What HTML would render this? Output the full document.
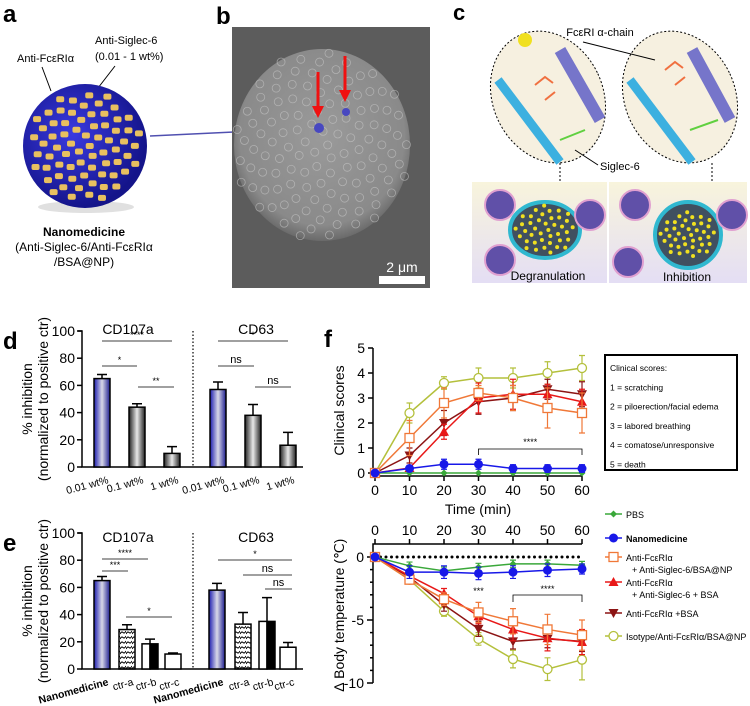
<!DOCTYPE html>
<html><head><meta charset="utf-8"><style>
html,body{margin:0;padding:0;background:#fff;}
svg{display:block;font-family:"Liberation Sans",sans-serif;}
</style></head><body>
<svg id="fig" width="750" height="706" viewBox="0 0 750 706" xmlns="http://www.w3.org/2000/svg">
<defs>
<radialGradient id="npG" cx="0.4" cy="0.4" r="0.6"><stop offset="0" stop-color="#3a3ae0"/><stop offset="1" stop-color="#14148a"/></radialGradient>
<radialGradient id="semG" cx="0.5" cy="0.45" r="0.55"><stop offset="0" stop-color="#9a9a9a"/><stop offset="0.85" stop-color="#8a8a8a"/><stop offset="1" stop-color="#6a6a6a"/></radialGradient>
<linearGradient id="blueBar" x1="0" x2="1"><stop offset="0" stop-color="#1c1cb0"/><stop offset="0.5" stop-color="#d8d8e8"/><stop offset="1" stop-color="#1c1c90"/></linearGradient>
<linearGradient id="greyBar" x1="0" x2="1"><stop offset="0" stop-color="#222"/><stop offset="0.5" stop-color="#e8e8e8"/><stop offset="1" stop-color="#222"/></linearGradient>
<linearGradient id="cellBg" x1="0" y1="0" x2="0" y2="1"><stop offset="0" stop-color="#f8f4dc"/><stop offset="1" stop-color="#e4def4"/></linearGradient>
<pattern id="wave" width="6" height="5" patternUnits="userSpaceOnUse"><path d="M0 4 Q1.5 1 3 2.5 T6 1" fill="none" stroke="#000" stroke-width="1"/></pattern>
</defs>

<!-- Panel a -->
<g>
<text x="3" y="22" font-size="24" font-weight="bold">a</text>
<text x="17" y="62" font-size="11">Anti-FcεRIα</text>
<text x="95" y="44" font-size="11">Anti-Siglec-6</text>
<text x="95" y="60" font-size="11">(0.01 - 1 wt%)</text>
<line x1="42" y1="67" x2="51" y2="91" stroke="#000"/>
<line x1="115" y1="66" x2="98" y2="88" stroke="#000"/>
<ellipse cx="86" cy="207" rx="48" ry="6" fill="#ccc" opacity="0.6"/>
<circle cx="85" cy="146" r="62" fill="url(#npG)"/>
<g id="npDots"></g>
<line x1="150" y1="136" x2="318" y2="128" stroke="#5050b0" stroke-width="1.5"/>
<text x="84" y="236" font-size="12" font-weight="bold" text-anchor="middle">Nanomedicine</text>
<text x="84" y="251" font-size="12" text-anchor="middle">(Anti-Siglec-6/Anti-FcεRIα</text>
<text x="84" y="266" font-size="12" text-anchor="middle">/BSA@NP)</text>
</g>

<!-- Panel b -->
<g>
<text x="216" y="24" font-size="24" font-weight="bold">b</text>
<rect x="232" y="27" width="198" height="261" fill="#5c5c5c"/>
<ellipse cx="322" cy="145" rx="88" ry="96" fill="url(#semG)"/>
<g id="semTex"></g>
<circle cx="319" cy="128" r="5" fill="#4848c0"/>
<circle cx="346" cy="112" r="4" fill="#4848c0"/>
<line x1="318" y1="72" x2="318" y2="108" stroke="#f01010" stroke-width="3"/>
<polygon points="312,106 324,106 318,118" fill="#f01010"/>
<line x1="345" y1="56" x2="345" y2="92" stroke="#f01010" stroke-width="3"/>
<polygon points="339,90 351,90 345,102" fill="#f01010"/>
<text x="402" y="272" font-size="14" fill="#fff" text-anchor="middle">2 μm</text>
<rect x="379" y="276" width="46" height="8" fill="#fff"/>
</g>

<!-- Panel c -->
<g>
<text x="453" y="20" font-size="22" font-weight="bold">c</text>
<g>
<ellipse cx="548" cy="97" rx="55" ry="68" transform="rotate(-25 548 97)" fill="#f6f0e0" stroke="#000" stroke-dasharray="2,2"/>
<path d="M498 80 L560 162" stroke="#3cb0e0" stroke-width="9" fill="none"/>
<path d="M560 50 L600 120" stroke="#4040c0" stroke-width="12" fill="none" opacity="0.7"/>
<circle cx="525" cy="40" r="7" fill="#f0e020"/>
<path d="M535 85 l10 -8 l8 6 M545 100 l10 -8" stroke="#f07040" stroke-width="2" fill="none"/>
<path d="M560 140 l25 -10" stroke="#60d040" stroke-width="2"/>
</g>
<g>
<ellipse cx="680" cy="97" rx="55" ry="68" transform="rotate(-25 680 97)" fill="#f6f0e0" stroke="#000" stroke-dasharray="2,2"/>
<path d="M630 80 L692 162" stroke="#3cb0e0" stroke-width="9" fill="none"/>
<path d="M692 50 L730 120" stroke="#4040c0" stroke-width="12" fill="none" opacity="0.7"/>
<path d="M665 70 l10 -8 l8 6 M675 85 l10 -8" stroke="#f07040" stroke-width="2" fill="none"/>
<path d="M690 130 l28 -10" stroke="#60d040" stroke-width="2"/>
</g>
<text x="600" y="36" font-size="11" text-anchor="middle">FcεRI α-chain</text>
<line x1="583" y1="42" x2="655" y2="60" stroke="#000"/>
<text x="600" y="170" font-size="11">Siglec-6</text>
<line x1="575" y1="150" x2="598" y2="165" stroke="#000"/>
<line x1="560" y1="163" x2="560" y2="196" stroke="#000" stroke-dasharray="2,2"/>
<line x1="712" y1="163" x2="712" y2="198" stroke="#000" stroke-dasharray="2,2"/>
<rect x="472" y="182" width="135" height="101" fill="url(#cellBg)"/>
<rect x="609" y="182" width="138" height="101" fill="url(#cellBg)"/>
<ellipse cx="545" cy="230" rx="35" ry="28" fill="#405060" stroke="#30b8d0" stroke-width="4"/>
<circle cx="688" cy="235" r="33" fill="#405060" stroke="#30b8d0" stroke-width="4"/>
<g id="cellDots"></g>
<text x="548" y="280" font-size="12" text-anchor="middle">Degranulation</text>
<text x="687" y="281" font-size="12" text-anchor="middle">Inhibition</text>
</g>

<g id="pd">
<text x="3" y="349" font-size="24" font-weight="bold">d</text>
</g>
<g id="pe">
<text x="3" y="551" font-size="24" font-weight="bold">e</text>
</g>
<g id="pf">
<text x="324" y="347" font-size="24" font-weight="bold">f</text>
</g>
</svg>
<script>
// ---- panel d data ----
const dCats = ["0.01 wt%","0.1 wt%","1 wt%"];
const dCD107a = [65,44,10];
const dCD107aErr = [3,2.5,5];
const dCD63 = [57,38,16];
const dCD63Err = [5.5,8,9.5];
// ---- panel e data ----
const eCats = ["Nanomedicine","ctr-a","ctr-b","ctr-c"];
const eCD107a = [65,29,18.5,11];
const eCD107aErr = [3,3.5,3.5,0.8];
const eCD63 = [58,33,35,16];
const eCD63Err = [5,8.5,17.5,3.5];
const barTicks = [0,20,40,60,80,100];
// ---- panel f data ----
const times = [0,10,20,30,40,50,60];
const scoreTicks = [0,1,2,3,4,5];
const tempTicks = [0,-5,-10];
const clinPBS = [0,0,0,0,0,0,0];
const clinNano = [0,0.18,0.35,0.35,0.18,0.18,0.18];
const clinNanoErr = [0,0.12,0.2,0.2,0.15,0.15,0.15];
const clinNP = [0,1.4,2.8,3.2,3.0,2.6,2.4];
const clinNPErr = [0,0.7,0.6,0.3,0.5,0.8,0.8];
const clinFree = [0,0.2,1.65,3.0,3.15,3.15,2.85];
const clinFreeErr = [0,0.1,0.3,0.6,0.6,0.4,0.5];
const clinBSA = [0,0.7,2.0,2.85,3.0,3.35,3.15];
const clinBSAErr = [0,0.3,0.5,0.5,0.5,0.4,0.5];
const clinIso = [0,2.4,3.6,3.8,3.8,4.0,4.2];
const clinIsoErr = [0,0.4,0.25,0.4,0.4,0.45,0.5];
const tempPBS = [0,-0.7,-1.1,-0.8,-0.55,-0.55,-0.65];
const tempPBSErr = [0,0.3,0.3,0.3,0.3,0.3,0.3];
const tempNano = [0,-1.2,-1.2,-1.3,-1.2,-1.05,-0.95];
const tempNanoErr = [0,0.5,0.5,0.5,0.5,0.5,0.4];
const tempNP = [0,-1.8,-3.35,-4.4,-5.1,-5.75,-6.2];
const tempNPErr = [0,0.3,0.5,0.8,1.0,1.2,1.2];
const tempFree = [0,-1.5,-2.9,-4.7,-5.75,-6.45,-6.75];
const tempFreeErr = [0,0.3,0.4,0.6,0.9,1.0,1.0];
const tempBSA = [0,-1.6,-3.8,-5.7,-6.7,-6.5,-6.7];
const tempBSAErr = [0,0.3,0.5,0.6,0.6,0.7,0.8];
const tempIso = [0,-1.8,-4.3,-6.5,-8.1,-8.9,-8.15];
const tempIsoErr = [0,0.3,0.4,0.5,0.7,0.9,1.6];

const NS="http://www.w3.org/2000/svg";
function mk(parent,tag,attrs,txt){const e=document.createElementNS(NS,tag);for(const k in attrs)e.setAttribute(k,attrs[k]);if(txt!==undefined)e.textContent=txt;parent.appendChild(e);return e;}

// decorative
(function(){
  const g=document.getElementById('npDots');
  for(let i=0;i<70;i++){const a=i*2.399,r=56*Math.sqrt((i+0.5)/70);
    const d=mk(g,'rect',{x:85+r*Math.cos(a)-4,y:146+r*Math.sin(a)-3,width:8,height:6,rx:2,fill:'#e8c060'});
    
    }
  const s=document.getElementById('semTex');
  for(let i=0;i<120;i++){const a=i*2.399,r=88*Math.sqrt((i+0.5)/120);
    const c=mk(s,'circle',{cx:322+r*Math.cos(a),cy:145+r*Math.sin(a)*1.08,r:4,fill:'none',stroke:'#c8c8c8','stroke-width':0.8,opacity:0.6});
    
    }
  const cd=document.getElementById('cellDots');
  [[545,230,30],[688,235,28]].forEach(([cx,cy,R])=>{for(let i=0;i<40;i++){const a=i*2.399,r=R*Math.sqrt((i+0.5)/40);
    const c=mk(cd,'circle',{cx:cx+r*Math.cos(a),cy:cy+r*Math.sin(a)*0.85,r:2,fill:'#f0e020'});
    
    }});
  [[500,205],[500,260],[590,215],[635,205],[628,262],[732,215]].forEach(([x,y])=>{
    const c=mk(cd,'circle',{cx:x,cy:y,r:15,fill:'#6050a8',stroke:'#e0a0d0','stroke-width':2});
    
    });
})();

// bar panels
function barPanel(gid,y0,titleOff,cats,left,leftErr,right,rightErr,cl,cr,fills,sig){
  const g=document.getElementById(gid);
  const y=v=>y0-v*1.36;
  const ax=mk(g,'path',{d:`M78 ${y(100)} H82 V${y0} H303`,fill:'none',stroke:'#000','stroke-width':1.5});
  
  
  barTicks.forEach(t=>{
    const l=mk(g,'line',{x1:77,x2:82,y1:y(t),y2:y(t),stroke:'#000','stroke-width':1.5});
    
    
    const tx=mk(g,'text',{x:75,y:y(t)+5,'font-size':14,'text-anchor':'end'},t);
    
    
  });
  const dv=mk(g,'line',{x1:193,x2:193,y1:y(100),y2:y0,stroke:'#000','stroke-dasharray':'1.5,2','stroke-width':1.2});
  
  
  const t1=mk(g,'text',{x:128,y:y(100)+titleOff,'font-size':14,'text-anchor':'middle'},'CD107a');
  
  
  const t2=mk(g,'text',{x:256,y:y(100)+titleOff,'font-size':14,'text-anchor':'middle'},'CD63');
  
  
  const yl1=mk(g,'text',{x:0,y:0,'font-size':14,'text-anchor':'middle',transform:`translate(32 ${y(50)}) rotate(-90)`},'% inhibition');
  
  
  const yl2=mk(g,'text',{x:0,y:0,'font-size':14,'text-anchor':'middle',transform:`translate(48 ${y(50)}) rotate(-90)`},'(normalized to positive ctr)');
  
  
  [[left,leftErr,cl],[right,rightErr,cr]].forEach(([vals,errs,cs])=>{
    vals.forEach((v,i)=>{
      const c=cs[i];
      const eb=mk(g,'path',{d:`M${c} ${y(v)} V${y(v+errs[i])} M${c-5} ${y(v+errs[i])} H${c+5}`,stroke:'#000','stroke-width':1.5,fill:'none'});
      
      
      const f=fills[i];
      if(f==='split'){
        const r1=mk(g,'rect',{x:c-8,y:y(v),width:8,height:y0-y(v),fill:'#fff',stroke:'#000','stroke-width':1.5});
        
        
        const r2=mk(g,'rect',{x:c,y:y(v),width:8,height:y0-y(v),fill:'#000',stroke:'#000','stroke-width':1.5});
        
        
      } else {
        const r=mk(g,'rect',{x:c-8,y:y(v),width:16,height:y0-y(v),fill:f,stroke:'#000','stroke-width':1.5});
        
        
      }
      const lb=mk(g,'text',{x:0,y:0,'font-size':10.5,'font-weight':cats[i]==='Nanomedicine'?'bold':'normal','text-anchor':'end',transform:`translate(${c+7} ${y0+16}) rotate(-15)`},cats[i]);
      
      
    });
  });
  sig.forEach(([x1,x2,yy,lbl])=>{
    const l=mk(g,'line',{x1:x1,x2:x2,y1:yy,y2:yy,stroke:'#000','stroke-width':0.8});
    
    
    const t=mk(g,'text',{x:(x1+x2)/2,y:yy-3,'font-size':lbl==='ns'?11:9,'text-anchor':'middle'},lbl);
    
    
  });
}
barPanel('pd',467,3,dCats,dCD107a,dCD107aErr,dCD63,dCD63Err,[102,137,172],[218,253,288],
  ['url(#blueBar)','url(#greyBar)','url(#greyBar)'],
  [[102,172,341,'****'],[102,137,366,'*'],[138,174,387,'**'],[218,288,341,'*'],[218,254,366,'ns'],[255,291,387,'ns']]);
barPanel('pe',669,9,eCats,eCD107a,eCD107aErr,eCD63,eCD63Err,[102,127,150,173],[217,243,267,288],
  ['url(#blueBar)','url(#wave)','split','#fff'],
  [[102,148,559,'****'],[102,128,571,'***'],[126,172,617,'*'],[218,292,560,'*'],[243,292,575,'ns'],[265,292,589,'ns']]);

// panel f
(function(){
  const g=document.getElementById('pf');
  const x=t=>375+t*3.45;
  const yc=v=>473-25*v;
  const yt=v=>557-12.6*v;
  const a1=mk(g,'path',{d:`M373 ${yc(5)} V476 H582`,fill:'none',stroke:'#000','stroke-width':1.5});
  
  
  scoreTicks.forEach(s=>{
    const l=mk(g,'line',{x1:368,x2:373,y1:yc(s),y2:yc(s),stroke:'#000','stroke-width':1.5});
    
    
    const t=mk(g,'text',{x:365,y:yc(s)+5,'font-size':14,'text-anchor':'end'},s);
    
    
  });
  times.forEach(tm=>{
    const l=mk(g,'line',{x1:x(tm),x2:x(tm),y1:476,y2:481,stroke:'#000','stroke-width':1.5});
    
    
    const t=mk(g,'text',{x:x(tm),y:495,'font-size':14,'text-anchor':'middle'},tm);
    
    
    const l2=mk(g,'line',{x1:x(tm),x2:x(tm),y1:539,y2:544,stroke:'#000','stroke-width':1.5});
    
    
    const t2=mk(g,'text',{x:x(tm),y:535,'font-size':14,'text-anchor':'middle'},tm);
    
    
  });
  const xt=mk(g,'text',{x:478,y:514,'font-size':14,'text-anchor':'middle'},'Time (min)');
  
  
  const yt1=mk(g,'text',{x:0,y:0,'font-size':14,'text-anchor':'middle',transform:`translate(344 ${yc(2.5)}) rotate(-90)`},'Clinical scores');
  
  
  const a2=mk(g,'path',{d:`M373 683 V544 H582`,fill:'none',stroke:'#000','stroke-width':1.5});
  
  
  for(let v=0;v>=-10;v--){
    const big=v%5===0;
    const l=mk(g,'line',{x1:big?367:370,x2:373,y1:yt(v),y2:yt(v),stroke:'#000','stroke-width':1.5});
    
    
  }
  tempTicks.forEach(v=>{
    const t=mk(g,'text',{x:364,y:yt(v)+5,'font-size':14,'text-anchor':'end'},v);
    
    
  });
  const yt2=mk(g,'text',{x:0,y:0,'font-size':14,'text-anchor':'middle',transform:`translate(344 615) rotate(-90)`},'∆ Body temperature (℃)');
  
  
  const dl=mk(g,'line',{x1:375,x2:582,y1:yt(0),y2:yt(0),stroke:'#000','stroke-width':3,'stroke-dasharray':'0,5.5','stroke-linecap':'round'});
  
  

  function marker(p,kind,color,cx,cy){
    let e;
    if(kind==='diamond') e=mk(p,'polygon',{points:`${cx},${cy-3.5} ${cx+3.5},${cy} ${cx},${cy+3.5} ${cx-3.5},${cy}`,fill:color});
    else if(kind==='dot') e=mk(p,'circle',{cx:cx,cy:cy,r:4.5,fill:color});
    else if(kind==='square') e=mk(p,'rect',{x:cx-4.5,y:cy-4.5,width:9,height:9,fill:'#fff',stroke:color,'stroke-width':1.3});
    else if(kind==='tri') e=mk(p,'polygon',{points:`${cx},${cy-5} ${cx+5},${cy+4} ${cx-5},${cy+4}`,fill:color});
    else if(kind==='dtri') e=mk(p,'polygon',{points:`${cx},${cy+5} ${cx+5},${cy-4} ${cx-5},${cy-4}`,fill:color});
    else e=mk(p,'circle',{cx:cx,cy:cy,r:4.5,fill:'#fff',stroke:color,'stroke-width':1.3});
    
    
  }
  function series(name,vals,errs,yf,color,kind){
    const sg=mk(g,'g',{});
    
    
    if(errs) vals.forEach((v,i)=>{if(!errs[i])return;const cx=x(times[i]);
      const e=mk(sg,'path',{d:`M${cx} ${yf(v-errs[i])} V${yf(v+errs[i])} M${cx-3} ${yf(v-errs[i])} H${cx+3} M${cx-3} ${yf(v+errs[i])} H${cx+3}`,stroke:color,'stroke-width':1.2,fill:'none'});
      
      });
    const pl=mk(sg,'polyline',{points:vals.map((v,i)=>x(times[i])+','+yf(v)).join(' '),fill:'none',stroke:color,'stroke-width':1.5});
    
    
    vals.forEach((v,i)=>marker(sg,kind,color,x(times[i]),yf(v)));
  }
  const C={pbs:'#3aa83a',nano:'#1818e8',np:'#f07838',free:'#e81818',bsa:'#8c1414',iso:'#b4c03c'};
  series('clinical-isotype',clinIso,clinIsoErr,yc,C.iso,'ocircle');
  series('clinical-anti-fceria-bsa',clinBSA,clinBSAErr,yc,C.bsa,'dtri');
  series('clinical-free-siglec',clinFree,clinFreeErr,yc,C.free,'tri');
  series('clinical-np',clinNP,clinNPErr,yc,C.np,'square');
  series('clinical-pbs',clinPBS,null,yc,C.pbs,'diamond');
  series('clinical-nanomedicine',clinNano,clinNanoErr,yc,C.nano,'dot');
  series('temp-isotype',tempIso,tempIsoErr,yt,C.iso,'ocircle');
  series('temp-anti-fceria-bsa',tempBSA,tempBSAErr,yt,C.bsa,'dtri');
  series('temp-free-siglec',tempFree,tempFreeErr,yt,C.free,'tri');
  series('temp-np',tempNP,tempNPErr,yt,C.np,'square');
  series('temp-pbs',tempPBS,tempPBSErr,yt,C.pbs,'diamond');
  series('temp-nanomedicine',tempNano,tempNanoErr,yt,C.nano,'dot');
  const b1=mk(g,'path',{d:`M${x(30)} 455 V449 H${x(60)} V455`,fill:'none',stroke:'#000','stroke-width':0.8});
  
  
  const s1=mk(g,'text',{x:x(45),y:445,'font-size':9,'text-anchor':'middle'},'****');
  
  
  const s2=mk(g,'text',{x:x(30),y:594,'font-size':9,'text-anchor':'middle'},'***');
  
  
  const b2=mk(g,'path',{d:`M${x(40)} 602 V595 H${x(60)} V602`,fill:'none',stroke:'#000','stroke-width':0.8});
  
  
  const s3=mk(g,'text',{x:x(50),y:592,'font-size':9,'text-anchor':'middle'},'****');
  
  
  const bx=mk(g,'rect',{x:605,y:355,width:132,height:115,fill:'#fff',stroke:'#000','stroke-width':2});
  
  
  const bl=["Clinical scores:","1 = scratching","2 = piloerection/facial edema","3 = labored breathing","4 = comatose/unresponsive","5 = death"];
  bl.forEach((s,i)=>{const t=mk(g,'text',{x:610,y:371+i*19.3,'font-size':8.5},s);
    
    });
  const leg=[['PBS',C.pbs,'diamond',517,null],['Nanomedicine',C.nano,'dot',541,null],
    ['Anti-FcεRIα',C.np,'square',560,'+ Anti-Siglec-6/BSA@NP'],['Anti-FcεRIα',C.free,'tri',585,'+ Anti-Siglec-6 + BSA'],
    ['Anti-FcεRIα +BSA',C.bsa,'dtri',616,null],['Isotype/Anti-FcεRIα/BSA@NP',C.iso,'ocircle',639,null]];
  leg.forEach(([lbl,col,k,yy,l2],i)=>{
    const lg=mk(g,'g',{});
    
    
    mk(lg,'line',{x1:605,x2:622,y1:yy-3,y2:yy-3,stroke:col,'stroke-width':1.5});
    marker(lg,k,col,613.5,yy-3);
    const t=mk(lg,'text',{x:626,y:yy+1,'font-size':9,'font-weight':i===1?'bold':'normal'},lbl);
    
    
    if(l2){const t2=mk(lg,'text',{x:632,y:yy+13,'font-size':9},l2);
      
      }
  });
})();
</script>
</body></html>
